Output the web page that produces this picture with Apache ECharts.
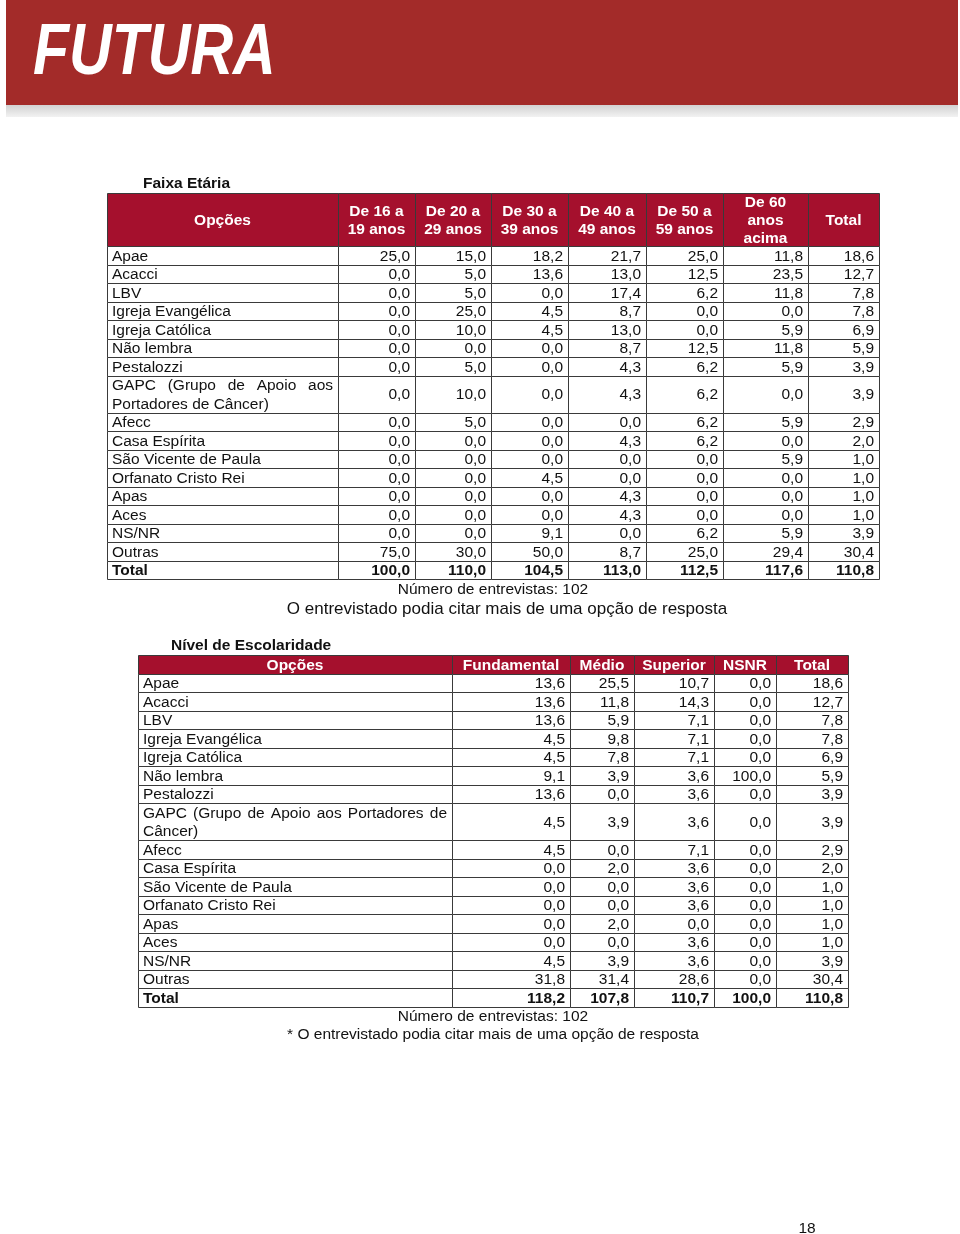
<!DOCTYPE html>
<html><head><meta charset="utf-8">
<script src="https://cdn.jsdelivr.net/npm/echarts@6/dist/echarts.min.js"></script>
<style>html,body{margin:0;padding:0;background:#fff}#c{width:960px;height:1234px}</style>
</head><body><div id="c"></div>
<script>
// ---------------- DATA ----------------
const ageTitle = 'Faixa Etária';
const ageHeaders = ['Opções', 'De 16 a\n19 anos', 'De 20 a\n29 anos', 'De 30 a\n39 anos', 'De 40 a\n49 anos', 'De 50 a\n59 anos', 'De 60\nanos\nacima', 'Total'];
const ageOptions = ['Apae', 'Acacci', 'LBV', 'Igreja Evangélica', 'Igreja Católica', 'Não lembra', 'Pestalozzi',
  'GAPC (Grupo de Apoio aos Portadores de Câncer)', 'Afecc', 'Casa Espírita', 'São Vicente de Paula',
  'Orfanato Cristo Rei', 'Apas', 'Aces', 'NS/NR', 'Outras', 'Total'];
const age16to19 = [25.0, 0.0, 0.0, 0.0, 0.0, 0.0, 0.0, 0.0, 0.0, 0.0, 0.0, 0.0, 0.0, 0.0, 0.0, 75.0, 100.0];
const age20to29 = [15.0, 5.0, 5.0, 25.0, 10.0, 0.0, 5.0, 10.0, 5.0, 0.0, 0.0, 0.0, 0.0, 0.0, 0.0, 30.0, 110.0];
const age30to39 = [18.2, 13.6, 0.0, 4.5, 4.5, 0.0, 0.0, 0.0, 0.0, 0.0, 0.0, 4.5, 0.0, 0.0, 9.1, 50.0, 104.5];
const age40to49 = [21.7, 13.0, 17.4, 8.7, 13.0, 8.7, 4.3, 4.3, 0.0, 4.3, 0.0, 0.0, 4.3, 4.3, 0.0, 8.7, 113.0];
const age50to59 = [25.0, 12.5, 6.2, 0.0, 0.0, 12.5, 6.2, 6.2, 6.2, 6.2, 0.0, 0.0, 0.0, 0.0, 6.2, 25.0, 112.5];
const age60plus = [11.8, 23.5, 11.8, 0.0, 5.9, 11.8, 5.9, 0.0, 5.9, 0.0, 5.9, 0.0, 0.0, 0.0, 5.9, 29.4, 117.6];
const ageTotal  = [18.6, 12.7, 7.8, 7.8, 6.9, 5.9, 3.9, 3.9, 2.9, 2.0, 1.0, 1.0, 1.0, 1.0, 3.9, 30.4, 110.8];
const ageNote1 = 'Número de entrevistas: 102';
const ageNote2 = 'O entrevistado podia citar mais de uma opção de resposta';

const eduTitle = 'Nível de Escolaridade';
const eduHeaders = ['Opções', 'Fundamental', 'Médio', 'Superior', 'NSNR', 'Total'];
const eduOptions = ['Apae', 'Acacci', 'LBV', 'Igreja Evangélica', 'Igreja Católica', 'Não lembra', 'Pestalozzi',
  'GAPC (Grupo de Apoio aos Portadores de Câncer)', 'Afecc', 'Casa Espírita', 'São Vicente de Paula',
  'Orfanato Cristo Rei', 'Apas', 'Aces', 'NS/NR', 'Outras', 'Total'];
const eduFundamental = [13.6, 13.6, 13.6, 4.5, 4.5, 9.1, 13.6, 4.5, 4.5, 0.0, 0.0, 0.0, 0.0, 0.0, 4.5, 31.8, 118.2];
const eduMedio       = [25.5, 11.8, 5.9, 9.8, 7.8, 3.9, 0.0, 3.9, 0.0, 2.0, 0.0, 0.0, 2.0, 0.0, 3.9, 31.4, 107.8];
const eduSuperior    = [10.7, 14.3, 7.1, 7.1, 7.1, 3.6, 3.6, 3.6, 7.1, 3.6, 3.6, 3.6, 0.0, 3.6, 3.6, 28.6, 110.7];
const eduNSNR        = [0.0, 0.0, 0.0, 0.0, 0.0, 100.0, 0.0, 0.0, 0.0, 0.0, 0.0, 0.0, 0.0, 0.0, 0.0, 0.0, 100.0];
const eduTotal       = [18.6, 12.7, 7.8, 7.8, 6.9, 5.9, 3.9, 3.9, 2.9, 2.0, 1.0, 1.0, 1.0, 1.0, 3.9, 30.4, 110.8];
const eduNote1 = 'Número de entrevistas: 102';
const eduNote2 = '* O entrevistado podia citar mais de uma opção de resposta';

const pageNumber = '18';
const brand = 'FUTURA';

// ---------------- STYLE / LAYOUT ----------------
const FONT_FAMILY = '"Liberation Sans", Arial, Helvetica, sans-serif';
const BODY_SIZE = 15.5;
const HEADER_FILL = '#A5102D';
const LINE_COLOR = '#3a3a3a';
const TEXT_COLOR = '#111111';
const TEXT_SHIFT = 1.2;

const ageLayout = {left: 107, top: 193, colWidths: [231, 77, 76, 77, 78, 77, 85, 71], headerHeight: 53, rowHeight: 18.5, pad: 5};
const eduLayout = {left: 138, top: 655, colWidths: [314, 118, 64, 80, 62, 72], headerHeight: 18.5, rowHeight: 18.5, pad: 5};

function fmt(v) { return v.toFixed(1).replace('.', ','); }

const measureCtx = document.createElement('canvas').getContext('2d');
function textWidth(s, bold) {
  measureCtx.font = (bold ? 'bold ' : '') + BODY_SIZE + 'px ' + FONT_FAMILY;
  return measureCtx.measureText(s).width;
}
function wrapWords(label, maxW, bold) {
  const words = label.split(' ');
  const lines = []; let cur = [];
  words.forEach(function (w) {
    const test = cur.concat([w]).join(' ');
    if (cur.length && textWidth(test, bold) > maxW) { lines.push(cur); cur = [w]; }
    else cur.push(w);
  });
  if (cur.length) lines.push(cur);
  return lines;
}

function buildTable(headers, options, columns, L) {
  const colEdges = [0];
  L.colWidths.forEach(function (w) { colEdges.push(colEdges[colEdges.length - 1] + w); });
  const labelLines = options.map(function (o) { return wrapWords(o, L.colWidths[0] - 2 * L.pad, o === 'Total'); });
  const rowEdges = [0, L.headerHeight];
  labelLines.forEach(function (ls) { rowEdges.push(rowEdges[rowEdges.length - 1] + ls.length * L.rowHeight); });
  const cells = [];
  headers.forEach(function (h, c) { cells.push({col: c, row: 0, kind: 'header', text: h}); });
  options.forEach(function (o, r) {
    const bold = o === 'Total';
    cells.push({col: 0, row: r + 1, kind: 'label', lines: labelLines[r], bold: bold});
    columns.forEach(function (arr, c) {
      cells.push({col: c + 1, row: r + 1, kind: 'value', text: fmt(arr[r]), bold: bold});
    });
  });
  return {colEdges: colEdges, rowEdges: rowEdges, totalW: colEdges[colEdges.length - 1], totalH: rowEdges[rowEdges.length - 1], cells: cells, L: L};
}

function txt(x, y, text, opts) {
  return {
    type: 'text', x: x, y: y, silent: true,
    style: Object.assign({
      text: text, fill: TEXT_COLOR, fontSize: BODY_SIZE, fontFamily: FONT_FAMILY,
      align: 'left', verticalAlign: 'middle'
    }, opts || {})
  };
}

function makeRender(t) {
  const L = t.L;
  return function (params, api) {
    const cell = t.cells[params.dataIndex];
    const c = api.value(0), r = api.value(1);
    const p0 = api.coord([t.colEdges[c], t.rowEdges[r]]);
    const p1 = api.coord([t.colEdges[c + 1], t.rowEdges[r + 1]]);
    const x0 = Math.round(p0[0]) + 0.5, y0 = Math.round(p0[1]) + 0.5;
    const x1 = Math.round(p1[0]) + 0.5, y1 = Math.round(p1[1]) + 0.5;
    const children = [{
      type: 'rect', silent: true,
      shape: {x: x0, y: y0, width: x1 - x0, height: y1 - y0},
      style: {fill: cell.kind === 'header' ? HEADER_FILL : '#ffffff', stroke: LINE_COLOR, lineWidth: 1}
    }];
    const cy = (p0[1] + p1[1]) / 2 + TEXT_SHIFT;
    const weight = cell.bold ? 'bold' : 'normal';
    if (cell.kind === 'header') {
      children.push(txt((p0[0] + p1[0]) / 2, cy, cell.text, {fill: '#ffffff', fontWeight: 'bold', align: 'center', lineHeight: 18}));
    } else if (cell.kind === 'value') {
      children.push(txt(p1[0] - L.pad, cy, cell.text, {fontWeight: weight, align: 'right'}));
    } else {
      const lines = cell.lines;
      const lh = (p1[1] - p0[1]) / lines.length;
      const avail = (p1[0] - p0[0]) - 2 * L.pad;
      lines.forEach(function (words, i) {
        const ly = p0[1] + (i + 0.5) * lh + TEXT_SHIFT;
        const isLast = i === lines.length - 1;
        if (isLast || words.length < 2) {
          children.push(txt(p0[0] + L.pad, ly, words.join(' '), {fontWeight: weight}));
        } else {
          const widths = words.map(function (w) { return textWidth(w, cell.bold); });
          const sum = widths.reduce(function (a, b) { return a + b; }, 0);
          const gap = (avail - sum) / (words.length - 1);
          let x = p0[0] + L.pad;
          words.forEach(function (w, k) {
            children.push(txt(x, ly, w, {fontWeight: weight}));
            x += widths[k] + gap;
          });
        }
      });
    }
    return {type: 'group', children: children};
  };
}

const ageTable = buildTable(ageHeaders, ageOptions, [age16to19, age20to29, age30to39, age40to49, age50to59, age60plus, ageTotal], ageLayout);
const eduTable = buildTable(eduHeaders, eduOptions, [eduFundamental, eduMedio, eduSuperior, eduNSNR, eduTotal], eduLayout);
const tables = [ageTable, eduTable];

const chart = echarts.init(document.getElementById('c'), null, {renderer: 'canvas', width: 960, height: 1234});

function titleOpt(text, left, centerY) {
  return {text: text, left: left, top: centerY - 9, padding: 0,
    textStyle: {fontSize: BODY_SIZE, fontWeight: 'bold', fontFamily: FONT_FAMILY, color: TEXT_COLOR, lineHeight: 18}};
}

chart.setOption({
  animation: false,
  backgroundColor: '#ffffff',
  title: [titleOpt(ageTitle, 143, 184), titleOpt(eduTitle, 171, 646)],
  grid: tables.map(function (t) {
    return {left: t.L.left, top: t.L.top, width: t.totalW, height: t.totalH, containLabel: false, show: false};
  }),
  xAxis: tables.map(function (t, i) {
    return {type: 'value', gridIndex: i, min: 0, max: t.totalW, show: false};
  }),
  yAxis: tables.map(function (t, i) {
    return {type: 'value', gridIndex: i, min: 0, max: t.totalH, inverse: true, show: false};
  }),
  series: tables.map(function (t, i) {
    return {
      type: 'custom', coordinateSystem: 'cartesian2d', xAxisIndex: i, yAxisIndex: i,
      clip: false, silent: true,
      encode: {x: 0, y: 1},
      renderItem: makeRender(t),
      data: t.cells.map(function (c) { return [c.col, c.row]; })
    };
  }),
  graphic: [
    {type: 'rect', silent: true, shape: {x: 6, y: 0, width: 952, height: 105}, style: {fill: '#A32B29'}},
    {type: 'rect', silent: true, shape: {x: 6, y: 105, width: 952, height: 12},
      style: {fill: new echarts.graphic.LinearGradient(0, 0, 0, 1, [{offset: 0, color: '#d2d2d2'}, {offset: 1, color: '#f2f2f2'}])}},
    {type: 'text', silent: true, x: 33, y: 54, scaleX: 0.82,
      style: {text: brand, fill: '#ffffff', fontSize: 72, fontWeight: 'bold', fontStyle: 'italic', fontFamily: FONT_FAMILY, align: 'left', verticalAlign: 'middle'}},
    txt(493, 590, ageNote1, {align: 'center'}),
    txt(507, 609, ageNote2, {align: 'center', fontSize: 17}),
    txt(493, 1017, eduNote1, {align: 'center'}),
    txt(493, 1035, eduNote2, {align: 'center'}),
    txt(807, 1229, pageNumber, {align: 'center'})
  ]
});
</script>
</body></html>
